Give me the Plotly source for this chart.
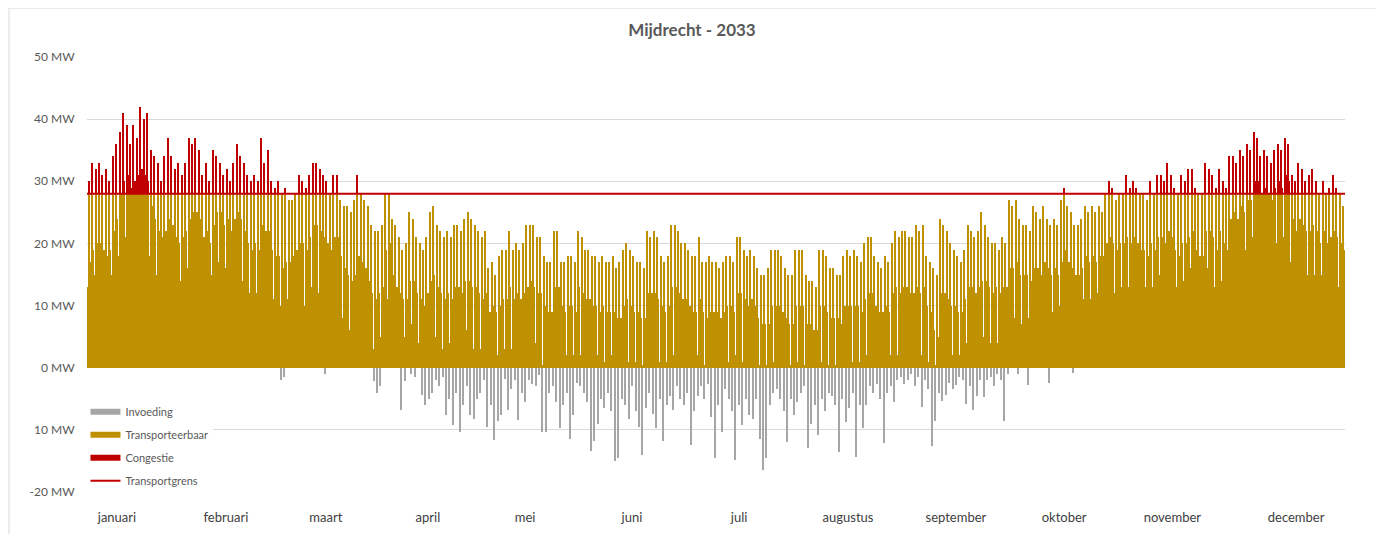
import plotly.graph_objects as go

# ---------------- data ----------------
maanden = ["januari", "februari", "maart", "april", "mei", "juni", "juli",
           "augustus", "september", "oktober", "november", "december"]
# label positions along the year axis (day of year)
maand_pos = [8.7, 40.3, 69.3, 98.9, 127.1, 158.1, 189.2, 220.8, 252.1, 283.5, 314.9, 350.8]

transportgrens = 28  # MW

y_ticks = [-20, -10, 0, 10, 20, 30, 40, 50]
y_labels = ["-20 MW", "10 MW", "0 MW", "10 MW", "20 MW", "30 MW", "40 MW", "50 MW"]

# daily peak load (MW)
piek = [
    30, 33, 32, 33, 31, 32, 30, 34, 36, 38, 41, 39, 36, 39, 37, 42, 40, 41, 35, 34, 33, 30, 34, 37, 34, 32, 33, 31, 33, 37, 36,
    37, 35, 31, 33, 30, 35, 34, 33, 31, 32, 30, 33, 36, 34, 33, 31, 30, 31, 30, 37, 33, 35, 30, 29, 30, 28, 29, 27,
    27, 28, 31, 30, 29, 31, 33, 33, 32, 31, 30, 28, 31, 31, 27, 26, 26, 25, 27, 31, 28, 27, 26, 23, 22, 22, 23, 28, 28, 24, 23,
    21, 19, 20, 25, 24, 21, 20, 19, 21, 25, 26, 23, 22, 21, 22, 21, 23, 23, 22, 24, 25, 24, 23, 22, 21, 22, 16, 17, 15, 18,
    19, 19, 22, 19, 20, 19, 20, 23, 23, 23, 21, 21, 18, 17, 17, 22, 22, 17, 17, 18, 18, 17, 22, 21, 19, 19, 18, 18, 17, 18, 17,
    17, 18, 16, 17, 19, 20, 19, 18, 17, 17, 16, 22, 21, 22, 21, 18, 17, 18, 23, 23, 22, 20, 20, 19, 18, 18, 21, 17, 17, 18,
    17, 17, 16, 17, 18, 18, 17, 21, 21, 19, 18, 19, 18, 16, 15, 15, 16, 19, 19, 19, 18, 16, 15, 15, 19, 19, 19, 15, 14, 14, 13,
    19, 19, 18, 16, 16, 15, 15, 18, 19, 18, 19, 18, 17, 20, 21, 21, 18, 17, 16, 18, 17, 20, 22, 21, 22, 22, 21, 21, 23, 22, 23,
    18, 17, 16, 15, 24, 23, 22, 20, 19, 18, 17, 19, 23, 22, 21, 22, 25, 23, 21, 20, 20, 19, 21, 20, 27, 26, 27, 24, 23, 23,
    22, 26, 25, 24, 26, 24, 23, 24, 23, 27, 29, 26, 25, 23, 23, 24, 26, 25, 26, 25, 26, 25, 28, 30, 29, 27, 28, 28, 31, 29, 30,
    29, 28, 28, 27, 30, 28, 31, 31, 30, 33, 31, 29, 28, 31, 30, 32, 32, 29, 28, 28, 33, 32, 31, 29, 32, 30, 29, 34, 34, 33,
    35, 34, 36, 35, 38, 37, 34, 35, 34, 33, 35, 36, 35, 37, 36, 31, 30, 33, 32, 30, 31, 32, 30, 28, 30, 28, 29, 31, 29, 28, 26,
]

# typical (bulk) load level of each day (MW)
basis = [
    17, 19, 20, 20, 19, 18, 19, 22, 24, 28, 30, 31, 29, 30, 31, 32, 31, 30, 26, 24, 22, 21, 22, 24, 23, 21, 20, 21, 22, 24, 25,
    25, 24, 21, 22, 20, 23, 25, 25, 23, 24, 22, 24, 25, 24, 22, 20, 19, 20, 19, 23, 22, 22, 19, 18, 18, 16, 17, 17,
    18, 19, 20, 20, 19, 21, 23, 23, 22, 21, 20, 19, 21, 21, 18, 16, 15, 14, 15, 18, 17, 16, 14, 12, 11, 12, 13, 19, 20, 15, 13,
    12, 11, 11, 14, 14, 12, 11, 10, 12, 14, 15, 13, 12, 11, 12, 11, 13, 13, 12, 14, 14, 13, 13, 12, 11, 12, 9, 10, 9, 10,
    11, 11, 13, 11, 12, 11, 12, 13, 14, 13, 12, 12, 10, 9, 9, 13, 13, 10, 9, 10, 10, 9, 13, 12, 11, 11, 10, 10, 9, 10, 9,
    9, 9, 8, 8, 10, 11, 10, 9, 9, 8, 8, 12, 12, 12, 11, 10, 9, 10, 13, 13, 12, 11, 11, 10, 9, 9, 11, 9, 8, 9,
    9, 9, 8, 9, 10, 10, 9, 12, 12, 11, 10, 11, 10, 8, 7, 7, 7, 10, 10, 10, 9, 8, 7, 7, 10, 10, 10, 7, 7, 6, 6,
    10, 10, 9, 8, 8, 8, 7, 10, 10, 10, 10, 10, 9, 11, 12, 12, 10, 9, 9, 10, 9, 12, 13, 12, 13, 13, 12, 12, 13, 12, 13,
    10, 9, 6, 5, 12, 12, 11, 10, 10, 9, 9, 11, 13, 13, 12, 13, 14, 14, 13, 12, 13, 12, 13, 13, 16, 16, 17, 15, 15, 15,
    14, 16, 16, 15, 17, 16, 15, 16, 15, 17, 19, 17, 16, 15, 15, 16, 18, 17, 18, 17, 18, 18, 20, 21, 20, 19, 20, 20, 21, 20, 21,
    20, 19, 19, 18, 20, 19, 21, 21, 20, 22, 21, 19, 18, 20, 20, 21, 22, 19, 18, 18, 22, 22, 21, 19, 22, 20, 19, 24, 25, 24,
    26, 25, 27, 27, 30, 30, 28, 29, 28, 27, 29, 30, 29, 31, 30, 24, 22, 24, 23, 22, 22, 23, 22, 20, 22, 20, 21, 22, 21, 20, 19,
]

# daily minimum load (MW)
dal = [
    13, 14, 15, 14, 15, 14, 13, 15, 16, 18, 20, 21, 19, 20, 21, 22, 21, 20, 18, 16, 15, 14, 15, 16, 15, 14, 13, 14, 15, 16, 17,
    17, 16, 14, 15, 13, 15, 17, 17, 15, 16, 14, 16, 17, 16, 14, 13, 12, 13, 12, 15, 14, 14, 12, 11, 11, 10, 10, 11,
    11, 12, 12, 11, 10, 12, 13, 13, 12, 11, 10, 9, 11, 11, 9, 8, 7, 6, 7, 9, 8, 8, 6, 4, 3, 4, 5, 10, 11, 7, 5,
    6, 4, 5, 7, 7, 5, 4, 3, 4, 6, 7, 5, 4, 3, 2, 4, 3, 5, 2, 4, 6, 4, 3, 2, 3, 4, 2, 3, 1, 2,
    2, 3, 1, 3, 2, 1, 2, 3, 2, 3, 4, 2, 0.5, 1, 1, 3, 2, 1, 1, 2, 1, 2, 3, 2, 2, 1, 1, 1, 2, 1, 1,
    1, 2, 0.5, 0.5, 1, 2, 1, 1, 1, 0.5, 0.5, 2, 2, 1, 1, 1, 0.5, 1, 2, 2, 2, 1, 1, 0.5, 1, 1, 2, 1, 0.5, 1,
    1, 0.5, 1, 1, 2, 1, 1, 2, 2, 1, 1, 1, 1, 0.5, 0.5, 0.5, 0.5, 1, 1, 1, 1, 0.5, 0.5, 0.5, 1, 1, 1, 0.5, 0.5, 0.5, 0.5,
    1, 1, 1, 0.5, 0.5, 0.5, 0.5, 1, 1, 1, 1, 1, 1, 1, 2, 2, 1, 1, 1, 1, 1, 2, 3, 2, 3, 3, 2, 2, 3, 2, 2,
    2, 1, 0.5, 0.5, 3, 3, 2, 2, 2, 2, 2, 3, 4, 4, 3, 4, 5, 5, 4, 4, 5, 4, 5, 4, 7, 8, 8, 7, 7, 8,
    8, 9, 10, 9, 10, 9, 8, 9, 8, 10, 11, 10, 9, 8, 8, 9, 11, 10, 11, 11, 12, 11, 13, 14, 13, 12, 13, 13, 14, 13, 14,
    14, 13, 13, 13, 14, 13, 15, 15, 14, 16, 15, 13, 13, 14, 14, 15, 16, 13, 13, 13, 16, 16, 15, 13, 16, 14, 14, 17, 18, 17,
    18, 18, 19, 19, 21, 21, 19, 19, 18, 17, 19, 20, 19, 21, 20, 17, 15, 17, 16, 15, 15, 16, 15, 13, 15, 13, 14, 15, 14, 13, 13,
]

# daily maximum feed-in (MW, negative)
invoeding = [
    0, 0, 0, 0, 0, 0, 0, 0, 0, 0, 0, 0, 0, 0, 0, 0, 0, 0, 0, 0, 0, 0, 0, 0, 0, 0, 0, 0, 0, 0, 0,
    0, 0, 0, 0, 0, 0, 0, 0, 0, 0, 0, 0, 0, 0, 0, 0, 0, 0, 0, 0, 0, 0, 0, 0, 0, -1.9, -1.5, 0,
    0, 0, 0, 0, 0, 0, 0, 0, 0, 0, -1, 0, 0, 0, 0, 0, 0, 0, 0, 0, 0, 0, 0, 0, -2.2, -4.1, -3, 0, 0, 0, 0,
    0, -6.8, -2.2, 0, -1, -1.5, 0, -4.4, -6, -5, -4, -2, -3, -1.5, -7.6, -5, -9.2, -4, -10.3, -6, -3, -7.6, -8.3, -5, -4, -2, -9.6, -6, -11.6, -8.6,
    -7.6, -1.8, -6.8, -3.4, -2, -8.4, -4, -5.5, -2, -2.7, -3, -1.2, -10.3, -10.3, -4, -3, -5.5, -9.7, -6, -4, -11.4, -7.6, -2.5, -3, -4, -5.5, -13.4, -11.8, -9.1, -5, -6.5,
    -4, -7, -15, -14.5, -5, -6, -8.2, -3, -7, -9.5, -14.1, -6.5, -4, -7.5, -9.7, -5, -11.8, -6, -4.5, -6.8, -3, -5, -6, -4, -12.4, -7, -4.5, -3, -5, -2.7,
    -8, -14.5, -6, -10.3, -3.5, -5, -7, -14.8, -6, -9.2, -5, -7.6, -8.3, -5, -11.4, -16.4, -14.5, -6, -4, -3.4, -5, -7, -12, -5, -7.6, -5.5, -4, -3, -12.9, -9, -6,
    -10.8, -5, -7, -4, -4.5, -6, -13.6, -5, -8.8, -6.5, -4, -14.4, -6, -9.7, -6, -3, -4, -2.7, -5, -12.1, -4, -3, -5.5, -2, -1.5, -2.7, -2, -1, -3, -1.5, -6.3,
    -2, -3.4, -12.6, -8.5, -4, -5.3, -4.4, -2.5, -3.4, -2.8, -1.5, -2, -5.8, -3, -6.8, -4.5, -2, -4.7, -2, -1.5, -3, -1, -2, -8.5, -1, 0, 0, -1, 0, 0,
    -2.8, 0, 0, 0, 0, 0, -2.5, 0, 0, 0, 0, 0, 0, -0.9, 0, 0, 0, 0, 0, 0, 0, 0, 0, 0, 0, 0, 0, 0, 0, 0, 0,
    0, 0, 0, 0, 0, 0, 0, 0, 0, 0, 0, 0, 0, 0, 0, 0, 0, 0, 0, 0, 0, 0, 0, 0, 0, 0, 0, 0, 0, 0,
    0, 0, 0, 0, 0, 0, 0, 0, 0, 0, 0, 0, 0, 0, 0, 0, 0, 0, 0, 0, 0, 0, 0, 0, 0, 0, 0, 0, 0, 0, 0,
]

# ---------------- build the time series (3 slots per day) ----------------
n_days = min(len(piek), len(basis), len(dal), len(invoeding))
SLOTS = 3
x, last, inv = [], [], []
for d in range(n_days):
    for k, v in enumerate([dal[d], piek[d], basis[d]]):
        x.append(d + (k + 0.5) / SLOTS)
        last.append(v)
        inv.append(invoeding[d] if k == 0 else 0)

transporteerbaar = [min(v, transportgrens) for v in last]
congestie = [max(v - transportgrens, 0) for v in last]

GOLD = "#BF9000"
RED = "#C00000"
GREY = "#A6A6A6"
TXT = "#595959"
FONT = "Lato, Open Sans, sans-serif"

fig = go.Figure()
bw = 1.0 / SLOTS
for yy, col in [(inv, GREY), (transporteerbaar, GOLD), (congestie, RED)]:
    fig.add_trace(go.Bar(x=x, y=yy, width=bw, opacity=0.999,
                         marker=dict(color=col, line=dict(width=0)),
                         showlegend=False, hoverinfo="skip"))

# legend entries (wide rectangles as in the reference)
for name, col, grp in [("Invoeding", GREY, "a"), ("Transporteerbaar", GOLD, "b"), ("Congestie", RED, "c")]:
    fig.add_trace(go.Scatter(x=[None], y=[None], mode="lines", name=name, legendgroup=grp,
                             line=dict(color=col, width=6)))

fig.add_trace(go.Scatter(x=[0, n_days], y=[transportgrens, transportgrens], mode="lines",
                         name="Transportgrens", legendgroup="d",
                         line=dict(color=RED, width=2), hoverinfo="skip"))

# chart border
fig.add_shape(type="rect", xref="paper", yref="paper", x0=-0.0620, x1=1.0254, y0=-0.13, y1=1.1126,
              line=dict(color="#D9D9D9", width=1), fillcolor="rgba(0,0,0,0)", layer="below")

fig.update_layout(
    width=1376, height=526,
    margin=dict(l=79, r=39, t=49, b=42, autoexpand=False),
    paper_bgcolor="white", plot_bgcolor="white",
    barmode="relative", bargap=0,
    title=dict(text="<b>Mijdrecht - 2033</b>", x=684 / 1376, xref="container", xanchor="center",
               y=1 - 22 / 526, yref="container", yanchor="middle",
               font=dict(family=FONT, size=17, color=TXT)),
    xaxis=dict(range=[0, n_days], tickmode="array", tickvals=maand_pos, ticktext=maanden,
               showgrid=False, zeroline=False, showline=False, automargin=False,
               ticks="outside", ticklen=13, tickcolor="rgba(0,0,0,0)",
               tickfont=dict(family=FONT, size=13, color="#404040")),
    yaxis=dict(range=[-20, 50], tickmode="array", tickvals=y_ticks, ticktext=y_labels,
               showgrid=True, gridcolor="#D9D9D9", gridwidth=1, zeroline=False, showline=False,
               automargin=False,
               ticks="outside", ticklen=9, tickcolor="rgba(0,0,0,0)",
               tickfont=dict(family=FONT, size=12, color=TXT)),
    legend=dict(x=0.0563, y=0.2599, xref="container", yref="container",
                xanchor="left", yanchor="top", bgcolor="white",
                traceorder="grouped", tracegroupgap=4, itemwidth=30,
                font=dict(family=FONT, size=11, color=TXT)),
    showlegend=True,
)

fig.write_html("out.html")
